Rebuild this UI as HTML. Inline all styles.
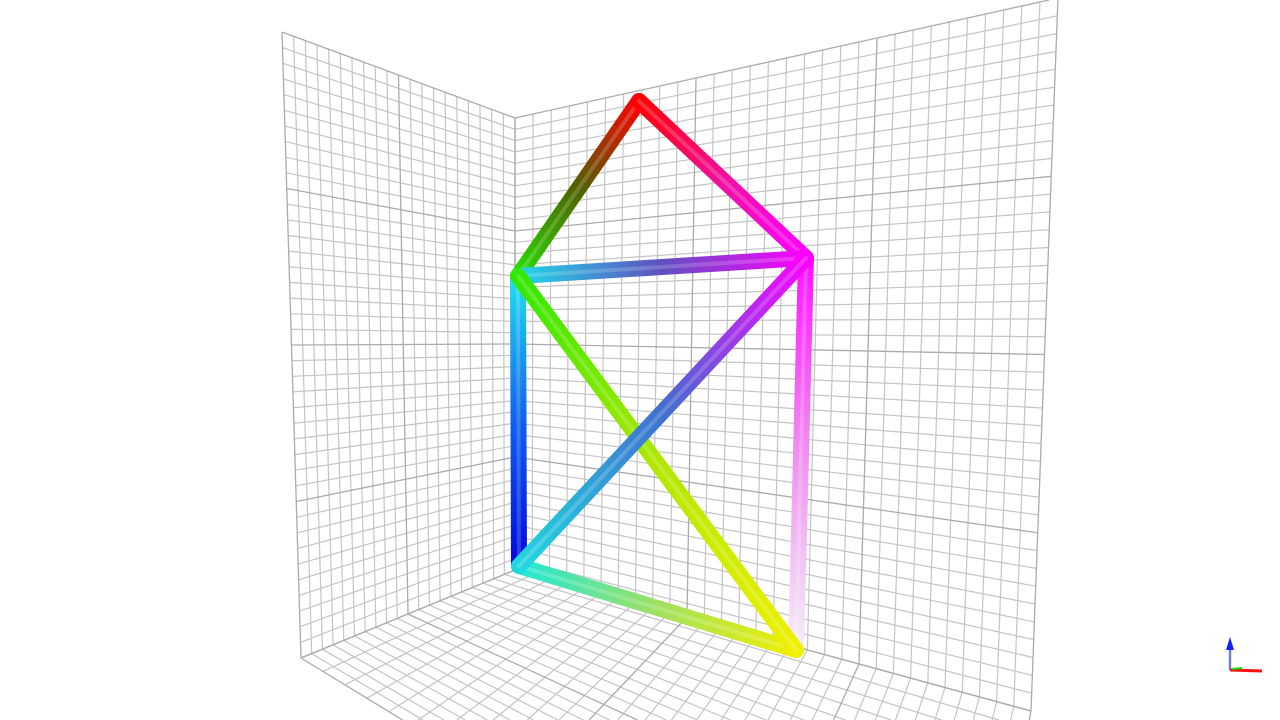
<!DOCTYPE html>
<html><head><meta charset="utf-8"><style>
html,body{margin:0;padding:0;background:#fff;width:1280px;height:720px;overflow:hidden}
svg{display:block}
</style></head><body>
<svg id="scene" width="1280" height="720" viewBox="0 0 1280 720" xmlns="http://www.w3.org/2000/svg">
<defs id="defs"></defs>
<g id="grids"></g>
<g id="tubes"></g>
<g id="axes">
  <line x1="1230" y1="670" x2="1230" y2="646" stroke="#7080c0" stroke-width="2.5"/>
  <polygon points="1226,650 1234,650 1230,637" fill="#1020ff"/>
  <line x1="1230" y1="670" x2="1262" y2="671" stroke="#ff1010" stroke-width="3"/>
  <line x1="1232" y1="669" x2="1242" y2="668" stroke="#10dd10" stroke-width="2"/>
</g>
</svg>
<script>
// wall corners [TL, TR, BR, BL] and cell counts
const wallNames=['left-wall','back-wall','floor'];
const wallCorners=[
 [[282,32],[515,118],[515,570],[301,658]],
 [[515,118],[1058,-2],[1031,711],[515,570]],
 [[515,570],[1031,711],[960,1060],[301,658]]
];
const wallCols=[20,30,30];
const wallRows=[40,40,20];
// truss nodes and edges with colour stops
const nodeNames=['apex','right-top','left-top','left-bottom','right-bottom'];
const nodeX=[639,806,518,519,796];
const nodeY=[101,258,276,566,650];
const edgeFrom=[2,0,2,2,1,3,2,3];
const edgeTo=[0,1,1,3,4,4,4,1];
const edgeColors=[
 ['#28e000','#506000','#ff0000'],
 ['#ff0000','#f010a0','#ff00ff'],
 ['#20d8e8','#6050c0','#ff00ff'],
 ['#20e0f0','#1060f0','#0008e0'],
 ['#ff10ff','#f090f0','#f4f0f8'],
 ['#20e8d8','#a0e060','#f0f000'],
 ['#30e800','#b0e800','#f0f000'],
 ['#20d8e0','#4070d0','#ff00ff']
];
const NS='http://www.w3.org/2000/svg';
function lerp(a,b,t){return [a[0]+(b[0]-a[0])*t,a[1]+(b[1]-a[1])*t];}
function clipSeg(p,q){
  // clip to 0<=y<=720
  if(p[1]>q[1]){const r=p;p=q;q=r;}
  if(p[1]>720||q[1]<0)return null;
  if(p[1]<0){const t=(0-p[1])/(q[1]-p[1]);p=lerp(p,q,t);}
  if(q[1]>720){const t=(720-p[1])/(q[1]-p[1]);q=lerp(p,q,t);}
  return 'M'+p[0].toFixed(1)+' '+p[1].toFixed(1)+'L'+q[0].toFixed(1)+' '+q[1].toFixed(1);
}
const grids=document.getElementById('grids');
wallCorners.forEach((c,w)=>{
  const g=document.createElementNS(NS,'g');
  
  
  let d='',dm='';
  for(let i=0;i<=wallCols[w];i++){
    const t=i/wallCols[w];const s=clipSeg(lerp(c[0],c[1],t),lerp(c[3],c[2],t));
    if(!s)continue;
    if(i%10==0)dm+=s;else d+=s;
  }
  for(let j=0;j<=wallRows[w];j++){
    const t=j/wallRows[w];const s=clipSeg(lerp(c[0],c[3],t),lerp(c[1],c[2],t));
    if(!s)continue;
    if(j%10==0)dm+=s;else d+=s;
  }
  const p1=document.createElementNS(NS,'path');p1.setAttribute('d',d);p1.setAttribute('stroke','#c4c4c4');p1.setAttribute('stroke-width','1.2');p1.setAttribute('fill','none');
  const p2=document.createElementNS(NS,'path');p2.setAttribute('d',dm);p2.setAttribute('stroke','#ababab');p2.setAttribute('stroke-width','1.3');p2.setAttribute('fill','none');
  g.appendChild(p1);g.appendChild(p2);grids.appendChild(g);
});
const defs=document.getElementById('defs');
const tubes=document.getElementById('tubes');
edgeFrom.forEach((f,e)=>{
  const t=edgeTo[e];
  const x1=nodeX[f],y1=nodeY[f],x2=nodeX[t],y2=nodeY[t];
  const gr=document.createElementNS(NS,'linearGradient');
  gr.setAttribute('id','g'+e);gr.setAttribute('gradientUnits','userSpaceOnUse');
  gr.setAttribute('x1',x1);gr.setAttribute('y1',y1);gr.setAttribute('x2',x2);gr.setAttribute('y2',y2);
  edgeColors[e].forEach((col,k)=>{const s=document.createElementNS(NS,'stop');s.setAttribute('offset',k/(edgeColors[e].length-1));s.setAttribute('stop-color',col);gr.appendChild(s);});
  defs.appendChild(gr);
  const sh=document.createElementNS(NS,'line');
  sh.setAttribute('x1',x1);sh.setAttribute('y1',y1);sh.setAttribute('x2',x2);sh.setAttribute('y2',y2);
  sh.setAttribute('stroke','url(#g'+e+')');sh.setAttribute('stroke-width','16');sh.setAttribute('stroke-linecap','round');
  
  
  tubes.appendChild(sh);
  const hl=document.createElementNS(NS,'line');
  hl.setAttribute('x1',x1);hl.setAttribute('y1',y1);hl.setAttribute('x2',x2);hl.setAttribute('y2',y2);
  hl.setAttribute('stroke','#ffffff');hl.setAttribute('stroke-width','4');hl.setAttribute('stroke-opacity','0.18');hl.setAttribute('stroke-linecap','round');
  
  
  tubes.appendChild(hl);
});
</script>
</body></html>
